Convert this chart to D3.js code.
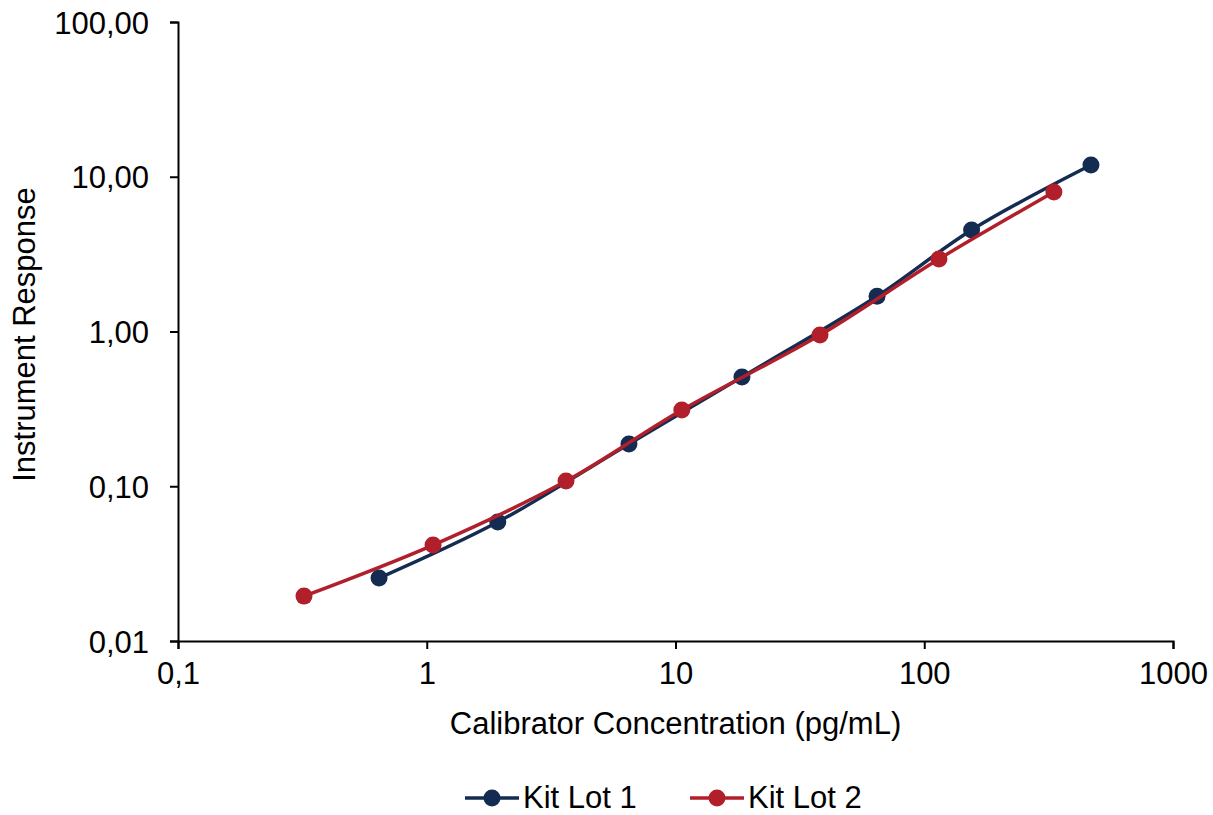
<!DOCTYPE html>
<meta charset="utf-8">
<style>
body { margin: 0; background: #fff; }
text { font-family: "Liberation Sans", Arial, sans-serif; fill: #000; }
.curve { fill: none; stroke-width: 3.5px; }
</style>
<body>
<script src="https://d3js.org/d3.v7.min.js"></script>
<script>

// data
var lot1Conc = [0.643, 1.93, 6.5, 18.5, 64.6, 155, 468];
var lot1Resp = [0.0255, 0.0587, 0.1875, 0.508, 1.69, 4.53, 11.9];
var lot2Conc = [0.321, 1.06, 3.63, 10.6, 38.1, 114.6, 332];
var lot2Resp = [0.0195, 0.0417, 0.108, 0.311, 0.948, 2.94, 7.97];
var seriesNames = ["Kit Lot 1", "Kit Lot 2"];
var seriesColors = ["#142b52", "#b11f2b"];
var xTicks = [0.1, 1, 10, 100, 1000];
var xTickLabels = ["0,1", "1", "10", "100", "1000"];
var yTicks = [0.01, 0.1, 1, 10, 100];
var yTickLabels = ["0,01", "0,10", "1,00", "10,00", "100,00"];

var W = 1213, H = 815;
var margin = {top: 22, right: 40, bottom: 174, left: 178},
    width = W - margin.left - margin.right,
    height = H - margin.top - margin.bottom;

var x = d3.scaleLog().domain([0.1, 1000]).range([0, width]);
var y = d3.scaleLog().domain([0.01, 100]).range([height, 0]);

var svg = d3.select("body").append("svg")
    .attr("width", W)
    .attr("height", H)
  .append("g")
    .attr("transform", "translate(" + margin.left + "," + margin.top + ")");

// axes
var xAxis = svg.append("g")
    .attr("transform", "translate(0," + height + ")")
    .call(d3.axisBottom(x).tickValues(xTicks)
      .tickFormat(function(d, i) { return xTickLabels[i]; })
      .tickSizeOuter(0).tickSize(8).tickPadding(13));
var yAxis = svg.append("g")
    .call(d3.axisLeft(y).tickValues(yTicks)
      .tickFormat(function(d, i) { return yTickLabels[i]; })
      .tickSizeOuter(0).tickSize(8).tickPadding(21));

[xAxis, yAxis].forEach(function(a) {
  a.select(".domain").attr("stroke", "#000").attr("stroke-width", 2);
  a.selectAll(".tick line").attr("stroke", "#000").attr("stroke-width", 2);
  a.selectAll(".tick text").attr("font-size", 31).attr("font-family", null);
});
yAxis.selectAll(".tick text").attr("dy", "0.36em");

// axis titles
svg.append("text")
    .attr("x", width / 2)
    .attr("y", height + 93)
    .attr("text-anchor", "middle")
    .attr("font-size", 31)
    .text("Calibrator Concentration (pg/mL)");
svg.append("text")
    .attr("transform", "translate(" + (-143) + "," + (height / 2 + 3) + ") rotate(-90)")
    .attr("text-anchor", "middle")
    .attr("font-size", 31)
    .text("Instrument Response");

// series
var series = [
  {name: seriesNames[0], color: seriesColors[0], pts: lot1Conc.map(function(c, i) { return [c, lot1Resp[i]]; })},
  {name: seriesNames[1], color: seriesColors[1], pts: lot2Conc.map(function(c, i) { return [c, lot2Resp[i]]; })}
];

var line = d3.line()
    .x(function(d) { return x(d[0]); })
    .y(function(d) { return y(d[1]); })
    .curve(d3.curveCatmullRom.alpha(0.5));

series.forEach(function(s) {
  svg.append("path")
      .datum(s.pts)
      .attr("class", "curve")
      .attr("stroke", s.color)
      .attr("d", line);
  svg.selectAll(null)
      .data(s.pts)
    .enter().append("circle")
      .attr("cx", function(d) { return x(d[0]); })
      .attr("cy", function(d) { return y(d[1]); })
      .attr("r", 8.5)
      .attr("fill", s.color);
});

// legend
var legend = d3.select("svg").append("g");
var legX = [465, 690];
series.forEach(function(s, i) {
  var g = legend.append("g").attr("transform", "translate(" + legX[i] + ",798)");
  g.append("line").attr("x1", 0).attr("x2", 54).attr("y1", 0).attr("y2", 0)
      .attr("stroke", s.color).attr("stroke-width", 3.5);
  g.append("circle").attr("cx", 27).attr("cy", 0).attr("r", 8.5).attr("fill", s.color);
  g.append("text").attr("x", 58).attr("y", 0).attr("dy", "0.33em")
      .attr("font-size", 31).text(s.name);
});

</script>
</body>
